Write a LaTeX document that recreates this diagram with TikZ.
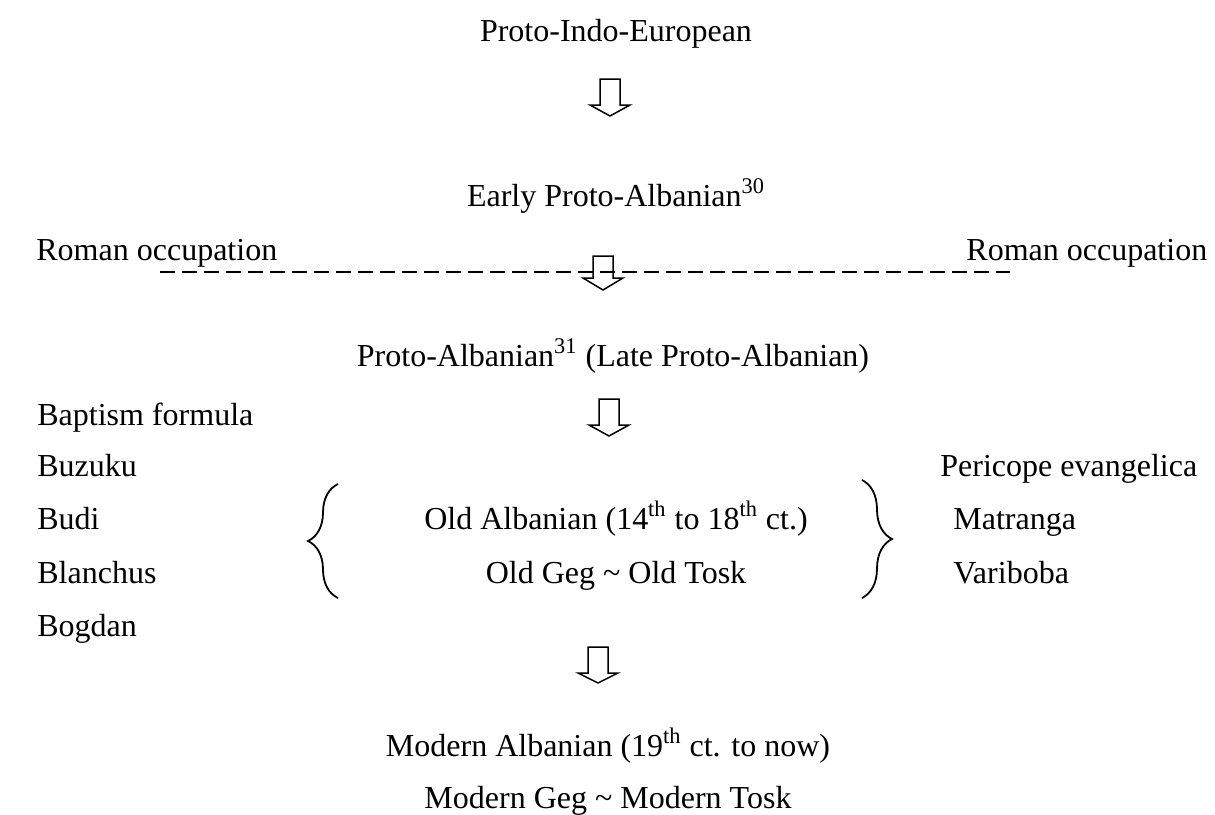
\documentclass[tikz,border=0pt]{standalone}
\usepackage{fontspec}
\setmainfont{Liberation Serif}
\usetikzlibrary{decorations.pathreplacing}
\tikzset{
  stage/.style={anchor=base, inner sep=0pt, font=\fontsize{16}{19}\selectfont},
  side/.style={anchor=base west, inner sep=0pt, font=\fontsize{16}{19}\selectfont},
  blockarrow/.style={draw, line width=0.75pt, line join=miter},
  curly/.style={decorate, decoration={brace, amplitude=15pt}, line width=0.9pt}
}
\begin{document}
\begin{tikzpicture}[x=0.5pt, y=-0.5pt]
  \useasboundingbox (0, 0) rectangle (1215, 814);

  % stages
  \node [stage] (pie) at (616, 41) {Proto-Indo-European};
  \node [stage] (early) at (616, 206) {Early Proto-Albanian\textsuperscript{30}};
  \node [stage] (late) at (613, 366) {Proto-Albanian\textsuperscript{31} (Late Proto-Albanian)};
  \node [stage] (old) at (616, 529) {Old Albanian (14\textsuperscript{th} to 18\textsuperscript{th} ct.)};
  \node [stage] (olddia) at (616, 583) {Old Geg \textasciitilde{} Old Tosk};
  \node [stage] (modern) at (608, 756) {Modern Albanian (19\textsuperscript{th} ct. to now)};
  \node [stage] (moddia) at (608, 808) {Modern Geg \textasciitilde{} Modern Tosk};

  % roman occupation
  \node [side] (romleft) at (36, 260) {Roman occupation};
  \node [side] (romright) at (966, 260) {Roman occupation};
  \draw [line width=0.8pt, dash pattern=on 7.5pt off 3.5pt] (160, 272) -- (1010, 272);

  % sources, left
  \node [side] (baptism) at (37, 425) {Baptism formula};
  \node [side] (buzuku) at (37, 476) {Buzuku};
  \node [side] (budi) at (37, 529) {Budi};
  \node [side] (blanchus) at (37, 583) {Blanchus};
  \node [side] (bogdan) at (37, 636) {Bogdan};

  % sources, right
  \node [side] (pericope) at (940, 476) {Pericope evangelica};
  \node [side] (matranga) at (953, 529) {Matranga};
  \node [side] (variboba) at (953, 583) {Variboba};

  % braces
  \draw [curly] (338, 598) -- (338, 484);
  \draw [curly] (862, 480) -- (862, 598);

  % arrows
  \draw [blockarrow] (600, 79) -- (620, 79) -- (620, 105) -- (630, 105) -- (610, 116) -- (590, 105) -- (600, 105) -- cycle;
  \draw [blockarrow] (593, 256) -- (613, 256) -- (613, 278) -- (623, 278) -- (603, 290) -- (583, 278) -- (593, 278) -- cycle;
  \draw [blockarrow] (599, 399) -- (619, 399) -- (619, 425) -- (629, 425) -- (609, 436) -- (589, 425) -- (599, 425) -- cycle;
  \draw [blockarrow] (588, 647) -- (608, 647) -- (608, 673) -- (618, 673) -- (598, 683) -- (578, 673) -- (588, 673) -- cycle;
\end{tikzpicture}
\end{document}
